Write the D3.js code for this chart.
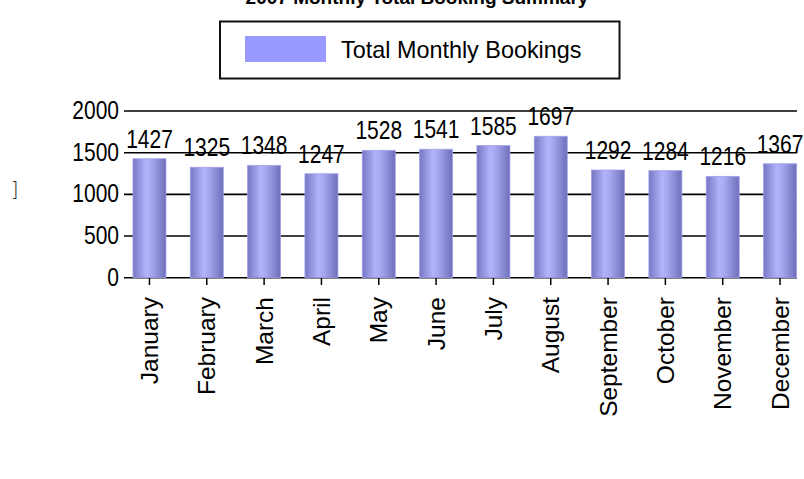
<!DOCTYPE html>
<html><head><meta charset="utf-8">
<script src="https://cdn.jsdelivr.net/npm/d3@7"></script>
<style>
html,body{margin:0;padding:0;background:#fff;overflow:hidden;}
text{font-family:"Liberation Sans",Arial,sans-serif;fill:#000;}
</style></head>
<body><svg id="c" width="804" height="479"></svg>
<script>
const months = ["January","February","March","April","May","June","July","August","September","October","November","December"];
const bookings = [1427,1325,1348,1247,1528,1541,1585,1697,1292,1284,1216,1367];
const yTicks = [0,500,1000,1500,2000];
const titleText = "2007 Monthly Total Booking Summary";
const seriesName = "Total Monthly Bookings";

const svg = d3.select("#c");
const defs = svg.append("defs");
const grad = defs.append("linearGradient").attr("id","bar").attr("x1","0").attr("x2","1").attr("y1","0").attr("y2","0");
[[0,"#7676c4"],[0.4,"#b3b3fb"],[0.55,"#a8a8f2"],[1,"#6e6eba"]].forEach(s=>grad.append("stop").attr("offset",s[0]).attr("stop-color",s[1]));

const x = d3.scaleBand().domain(months).range([120.8, 808.7]).padding(0);
const y = d3.scaleLinear().domain([0,2000]).range([277.7, 111]);
const gridX0 = 124, gridX1 = 797;

// title (clipped at top, as in the reference)
svg.append("text").attr("x",417).attr("y",3.5).attr("text-anchor","middle")
  .style("font-size","19px").style("font-weight","bold").text(titleText);

// legend
svg.append("rect").attr("x",220).attr("y",21.5).attr("width",399.5).attr("height",57)
  .attr("fill","#fff").attr("stroke","#111").attr("stroke-width",2);
svg.append("rect").attr("x",245).attr("y",36).attr("width",81).attr("height",26).attr("fill","#9999ff");
svg.append("text").attr("x",341).attr("y",58).style("font-size","23.4px").text(seriesName);

// stray glyph
svg.append("text").attr("x",11).attr("y",196).style("font-size","19px").style("font-family","DejaVu Sans").style("font-weight","300").style("fill","#222").text("]");

// gridlines
svg.append("g").selectAll("line").data(yTicks).join("line")
  .attr("x1",gridX0).attr("x2",gridX1).attr("y1",d=>y(d)).attr("y2",d=>y(d))
  .attr("stroke","#000").attr("stroke-width",1.6);

// y tick labels (narrow look via scale)
const yl = svg.append("g").selectAll("g").data(yTicks).join("g")
  .attr("transform",d=>`translate(119,${y(d)+8}) scale(1,1.22)`);
yl.append("text").attr("text-anchor","end").style("font-size","21px").text(d=>d);

// bars
const bw = 33;
svg.append("g").selectAll("rect").data(bookings).join("rect")
  .attr("x",(d,i)=>x(months[i])+x.bandwidth()/2-bw/2)
  .attr("y",d=>y(d)).attr("width",bw).attr("height",d=>y(0)-y(d))
  .attr("fill","url(#bar)").attr("stroke","#a0a0e8").attr("stroke-width",0.8);

// x axis ticks
svg.append("g").selectAll("line").data(months).join("line")
  .attr("x1",d=>x(d)+x.bandwidth()/2).attr("x2",d=>x(d)+x.bandwidth()/2)
  .attr("y1",278).attr("y2",285).attr("stroke","#000").attr("stroke-width",1.5);

// value labels
const vl = svg.append("g").selectAll("g").data(bookings).join("g")
  .attr("transform",(d,i)=>`translate(${x(months[i])+x.bandwidth()/2},${y(d)-11}) scale(1,1.22)`);
vl.append("text").attr("text-anchor","middle").style("font-size","21px").text(d=>d);

// month labels
svg.append("g").selectAll("text").data(months).join("text")
  .attr("transform",d=>`translate(${x(d)+x.bandwidth()/2+8.5},297) rotate(-90)`)
  .attr("text-anchor","end").style("font-size","24.5px").text(d=>d);
</script></body></html>
